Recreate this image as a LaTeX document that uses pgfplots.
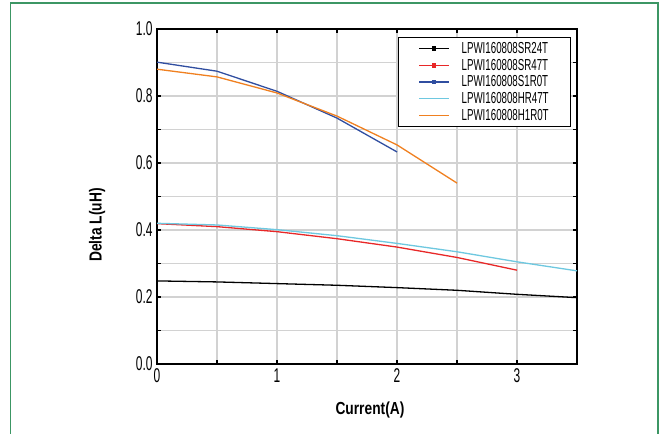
\documentclass[border=0pt]{standalone}
\usepackage{pgfplots}
\pgfplotsset{compat=1.18}
\usepackage{fontspec}
\setmainfont{Liberation Sans}[FakeStretch=0.60]
\newfontfamily\legendfont{Liberation Sans}[FakeStretch=0.61]
\newfontfamily\labelfont{Liberation Sans}[FakeStretch=0.79]

\definecolor{framegreen}{RGB}{60,150,100}
\definecolor{gridgrey}{RGB}{210,210,210}
\definecolor{cR}{RGB}{232,40,40}
\definecolor{cB}{RGB}{48,78,160}
\definecolor{cC}{RGB}{110,200,224}
\definecolor{cO}{RGB}{240,128,32}

\pgfplotsset{
  sqlegend/.style={legend image code/.code={%
    \draw[##1, line width=1.3bp] (0bp,0bp) -- (30bp,0bp);
    \fill[##1] (13.5bp,-1.8bp) rectangle (16.5bp,1.8bp);
    \path (40bp,0bp);}},
  lnlegend/.style={legend image code/.code={%
    \draw[##1, line width=1.3bp] (0bp,0bp) -- (30bp,0bp);
    \path (40bp,0bp);}},
}

\begin{document}
\begin{tikzpicture}[x=1bp,y=1bp]
\path[use as bounding box, clip] (0,0) rectangle (660,434);
\fill[white] (0,0) rectangle (660,434);
\draw[framegreen, line width=1.3bp] (10.5,-5) rectangle (658,431);
\begin{axis}[
  at={(157bp,70bp)}, anchor=south west,
  scale only axis, width=420bp, height=335bp,
  xmin=0, xmax=3.5, ymin=0, ymax=1,
  xtick={0,1,2,3}, minor xtick={0.5,1.5,2.5,3.5},
  ytick={0,0.2,0.4,0.6,0.8,1.0}, minor ytick={0.1,0.3,0.5,0.7,0.9},
  grid=both,
  major grid style={gridgrey, line width=1.4bp},
  minor grid style={gridgrey, line width=1.4bp},
  axis line style={black, line width=1.3bp},
  tick style={black, line width=1.1bp},
  major tick length=4bp, minor tick length=4bp,
  tick align=inside,
  /pgf/number format/assume math mode=true,
  yticklabel style={/pgf/number format/fixed, /pgf/number format/fixed zerofill, /pgf/number format/precision=1, xshift=-1bp},
  ticklabel style={font=\fontsize{20}{22}\selectfont},
  xticklabel style={yshift=-1bp},
  xlabel={Current(A)},
  ylabel={Delta L(uH)},
  xlabel style={font=\labelfont\bfseries\fontsize{17.5}{19}\selectfont, at={(axis description cs:0.507,0)}, anchor=center, yshift=-46bp},
  ylabel style={font=\labelfont\bfseries\fontsize{17.5}{19}\selectfont, at={(axis description cs:0,0.415)}, anchor=center, yshift=60bp},
  legend style={at={(axis description cs:0.986,0.976)}, anchor=north east,
    draw=black, line width=0.9bp, fill=white,
    font=\legendfont\fontsize{16}{18}\selectfont,
    row sep=0bp, inner xsep=20bp, inner ysep=3bp},
  legend cell align=left,
  every axis plot/.append style={line width=1.3bp},
]
\addplot[black, sqlegend]
  coordinates {(0,0.248) (0.5,0.245) (1,0.240) (1.5,0.235) (2,0.228) (2.5,0.220) (3,0.208) (3.5,0.198)};
\addlegendentry{LPWI160808SR24T}
\addplot[cR, sqlegend]
  coordinates {(0,0.419) (0.5,0.410) (1,0.395) (1.5,0.374) (2,0.349) (2.5,0.318) (3,0.280)};
\addlegendentry{LPWI160808SR47T}
\addplot[cB, sqlegend]
  coordinates {(0,0.901) (0.5,0.874) (1,0.814) (1.5,0.734) (2,0.633)};
\addlegendentry{LPWI160808S1R0T}
\addplot[cC, lnlegend]
  coordinates {(0,0.420) (0.5,0.415) (1,0.401) (1.5,0.383) (2,0.360) (2.5,0.335) (3,0.305) (3.5,0.278)};
\addlegendentry{LPWI160808HR47T}
\addplot[cO, lnlegend]
  coordinates {(0,0.880) (0.5,0.857) (1,0.809) (1.5,0.740) (2,0.654) (2.5,0.540)};
\addlegendentry{LPWI160808H1R0T}
\end{axis}
\end{tikzpicture}
\end{document}
